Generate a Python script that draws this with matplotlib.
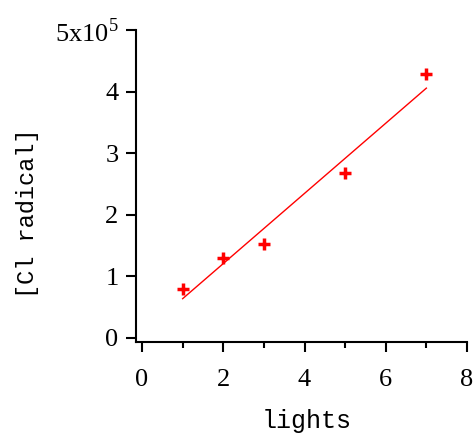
import numpy as np
import matplotlib
matplotlib.use("Agg")
import matplotlib.pyplot as plt
from matplotlib.ticker import MultipleLocator

# data (y in units of 1e5)
lights = np.array([1, 2, 3, 5, 7])
cl_radical = np.array([0.80, 1.30, 1.53, 2.68, 4.28])
ytick_labels = ['0', '1', '2', '3', '4', r'5x10$^{5}$']

plt.rcParams['mathtext.fontset'] = 'custom'
plt.rcParams['mathtext.rm'] = 'Liberation Serif'

fig = plt.figure(figsize=(4.77, 4.42), dpi=100)
ax = fig.add_axes([0.285, 0.226, 0.694, 0.706])

# linear fit
slope, intercept = np.polyfit(lights, cl_radical, 1)
xfit = np.array([lights.min(), lights.max()])
ax.plot(xfit, slope * xfit + intercept, color='red', lw=1.0)
ax.plot(lights, cl_radical, '+', color='red', ms=9, mew=2.5)

ax.set_xlim(-0.15, 8.0)
ax.set_ylim(-0.07, 5.0)
ax.spines['top'].set_visible(False)
ax.spines['right'].set_visible(False)
for s in ['left', 'bottom']:
    ax.spines[s].set_linewidth(1.5)

ax.xaxis.set_major_locator(MultipleLocator(2))
ax.xaxis.set_minor_locator(MultipleLocator(1))
ax.set_yticks(range(6))
ax.set_yticklabels(ytick_labels)
ax.tick_params(which='major', direction='out', length=7.5, width=1.5,
               labelsize=19, pad=5)
ax.tick_params(axis='x', which='major', pad=12)
ax.tick_params(which='minor', direction='out', length=4, width=1.5)
ax.tick_params(axis='y', which='minor', left=False)
for lab in ax.get_xticklabels() + ax.get_yticklabels():
    lab.set_fontfamily('Liberation Serif')

ax.set_xlabel('lights', fontfamily='Liberation Mono', fontsize=18)
ax.set_ylabel('[Cl radical]', fontfamily='Liberation Mono', fontsize=17)
ax.xaxis.set_label_coords(0.515, -0.215)
ax.yaxis.set_label_coords(-0.293, 0.413)

fig.savefig('out.png', dpi=100)
